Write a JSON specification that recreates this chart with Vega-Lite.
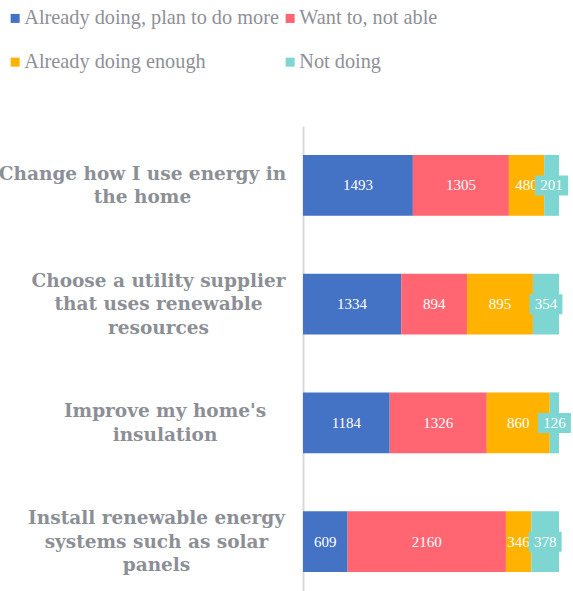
{
  "$schema": "https://vega.github.io/schema/vega-lite/v6.json",
  "width": 256,
  "height": 475,
  "autosize": {"type": "none"},
  "padding": {"left": 303, "top": 126, "right": 14, "bottom": 0},
  "background": "white",
  "config": {"view": {"stroke": null}},
  "data": {
    "values": [
      {"task": "Change how I use energy in|the home", "series": "Already doing, plan to do more", "rank": 1, "value": 1493},
      {"task": "Change how I use energy in|the home", "series": "Want to, not able", "rank": 2, "value": 1305},
      {"task": "Change how I use energy in|the home", "series": "Already doing enough", "rank": 3, "value": 480},
      {"task": "Change how I use energy in|the home", "series": "Not doing", "rank": 4, "value": 201},
      {"task": "Choose a utility supplier|that uses renewable|resources", "series": "Already doing, plan to do more", "rank": 1, "value": 1334},
      {"task": "Choose a utility supplier|that uses renewable|resources", "series": "Want to, not able", "rank": 2, "value": 894},
      {"task": "Choose a utility supplier|that uses renewable|resources", "series": "Already doing enough", "rank": 3, "value": 895},
      {"task": "Choose a utility supplier|that uses renewable|resources", "series": "Not doing", "rank": 4, "value": 354},
      {"task": "Improve my home's|insulation", "series": "Already doing, plan to do more", "rank": 1, "value": 1184},
      {"task": "Improve my home's|insulation", "series": "Want to, not able", "rank": 2, "value": 1326},
      {"task": "Improve my home's|insulation", "series": "Already doing enough", "rank": 3, "value": 860},
      {"task": "Improve my home's|insulation", "series": "Not doing", "rank": 4, "value": 126},
      {"task": "Install renewable energy|systems such as solar|panels", "series": "Already doing, plan to do more", "rank": 1, "value": 609},
      {"task": "Install renewable energy|systems such as solar|panels", "series": "Want to, not able", "rank": 2, "value": 2160},
      {"task": "Install renewable energy|systems such as solar|panels", "series": "Already doing enough", "rank": 3, "value": 346},
      {"task": "Install renewable energy|systems such as solar|panels", "series": "Not doing", "rank": 4, "value": 378}
    ]
  },
  "transform": [
    {"stack": "value", "groupby": ["task"], "sort": [{"field": "rank", "order": "ascending"}], "as": ["x0", "x1"], "offset": "normalize"},
    {"calculate": "(datum.x0 + datum.x1) / 2", "as": "xm"}
  ],
  "encoding": {
    "y": {
      "field": "task",
      "type": "nominal",
      "sort": null,
      "scale": {"paddingInner": 0.487, "paddingOuter": 0.2435},
      "axis": {
        "title": null,
        "ticks": false,
        "domainColor": "#d9d9d9",
        "domainWidth": 2,
        "labelExpr": "split(datum.label, '|')",
        "labelFont": "DejaVu Serif",
        "labelFontWeight": "bold",
        "labelFontSize": 18.5,
        "labelLineHeight": 23.5,
        "labelColor": "#8c8f96",
        "labelAlign": "center",
        "labelBaseline": "middle",
        "labelLimit": 0,
        "labelOffset": {
          "condition": [
            {"test": "indexof(datum.value, 'Change') == 0", "value": -11.5},
            {"test": "indexof(datum.value, 'Improve') == 0", "value": -11.5}
          ],
          "value": -23.5
        },
        "labelPadding": {
          "condition": [
            {"test": "indexof(datum.value, 'Change') == 0", "value": 161},
            {"test": "indexof(datum.value, 'Choose') == 0", "value": 145},
            {"test": "indexof(datum.value, 'Improve') == 0", "value": 138.5}
          ],
          "value": 147
        }
      }
    }
  },
  "layer": [
    {
      "mark": {"type": "bar"},
      "encoding": {
        "x": {"field": "x0", "type": "quantitative", "scale": {"domain": [0, 1]}, "axis": null},
        "x2": {"field": "x1"},
        "color": {
          "field": "series",
          "type": "nominal",
          "scale": {
            "domain": ["Already doing, plan to do more", "Want to, not able", "Already doing enough", "Not doing"],
            "range": ["#4472C4", "#FF6672", "#FFB300", "#7ED6D2"]
          },
          "legend": {
            "orient": "none",
            "direction": "horizontal",
            "legendX": -298,
            "legendY": -118,
            "columns": 2,
            "title": null,
            "padding": 0,
            "symbolType": "square",
            "symbolSize": 81,
            "symbolStrokeWidth": 0,
            "labelFont": "Liberation Serif",
            "labelFontSize": 20.3,
            "labelColor": "#8e9098",
            "labelOffset": -1,
            "labelLimit": 0,
            "rowPadding": 23,
            "columnPadding": 1
          }
        }
      }
    },
    {
      "transform": [{"filter": "datum.series != 'Not doing'"}],
      "mark": {"type": "text", "font": "Liberation Serif", "fontSize": 15, "color": "white", "baseline": "middle"},
      "encoding": {
        "x": {"field": "xm", "type": "quantitative"},
        "text": {"field": "value", "type": "quantitative"}
      }
    },
    {
      "transform": [{"filter": "datum.series == 'Not doing'"}],
      "mark": {"type": "point", "shape": "M-1.65,-1H1.65V1H-1.65Z", "size": 400, "filled": true, "color": "#7ED6D2", "opacity": 1, "strokeWidth": 0},
      "encoding": {
        "x": {"field": "xm", "type": "quantitative"}
      }
    },
    {
      "transform": [{"filter": "datum.series == 'Not doing'"}],
      "mark": {"type": "text", "font": "Liberation Serif", "fontSize": 15, "color": "white", "baseline": "middle"},
      "encoding": {
        "x": {"field": "xm", "type": "quantitative"},
        "text": {"field": "value", "type": "quantitative"}
      }
    }
  ]
}
